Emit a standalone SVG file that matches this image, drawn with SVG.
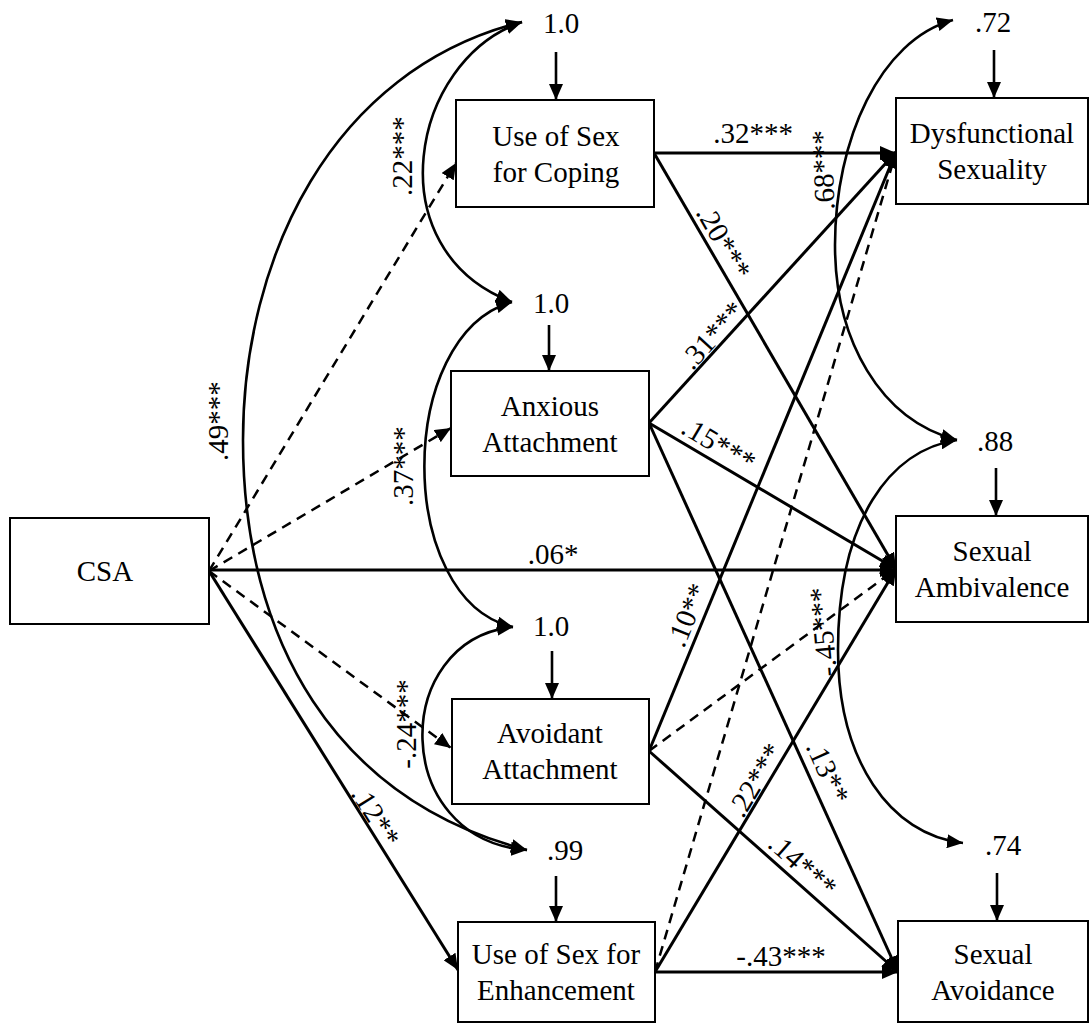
<svg xmlns="http://www.w3.org/2000/svg" width="1091" height="1025" viewBox="0 0 1091 1025" font-family="'Times New Roman', 'Liberation Serif', Times, serif" font-size="29">
<style>
text{font-family:'Times New Roman','Liberation Serif',Times,'DejaVu Serif',serif;font-size:29px;fill:#000}
.box{fill:#fff;stroke:#000;stroke-width:2}
.s{stroke:#000;stroke-width:3;fill:none;marker-end:url(#ah)}
.d{stroke:#000;stroke-width:2.5;fill:none;stroke-dasharray:10 7;marker-end:url(#ah)}
.c{stroke:#000;stroke-width:2.6;fill:none;marker-start:url(#ah2);marker-end:url(#ah2)}
.r{stroke:#000;stroke-width:2.6;fill:none;marker-end:url(#ah)}
.m{text-anchor:middle}
</style>
<defs>
<marker id="ah" markerUnits="userSpaceOnUse" markerWidth="18" markerHeight="14" refX="16" refY="7" orient="auto"><path d="M0,0 L16,7 L0,14 z" fill="#000"/></marker>
<marker id="ah2" markerUnits="userSpaceOnUse" markerWidth="18" markerHeight="14" refX="16" refY="7" orient="auto-start-reverse"><path d="M0,0 L16,7 L0,14 z" fill="#000"/></marker>
</defs>
<g id="connectors">
<line class="r" x1="556" y1="52" x2="556" y2="100"/>
<line class="r" x1="549" y1="325" x2="549" y2="371"/>
<line class="r" x1="552" y1="651" x2="552" y2="699"/>
<line class="r" x1="556" y1="876" x2="556" y2="922"/>
<line class="r" x1="994" y1="50" x2="994" y2="98"/>
<line class="r" x1="996" y1="468" x2="996" y2="516"/>
<line class="r" x1="997" y1="873" x2="997" y2="921"/>
<line class="d" x1="209" y1="571" x2="456" y2="163"/>
<line class="d" x1="209" y1="571" x2="451" y2="428"/>
<line class="d" x1="209" y1="571" x2="451" y2="748"/>
<line class="s" x1="209" y1="570" x2="896" y2="570"/>
<line class="s" x1="209" y1="571" x2="458" y2="970"/>
<line class="s" x1="654" y1="153" x2="896" y2="153"/>
<line class="s" x1="654" y1="153" x2="896" y2="569"/>
<line class="s" x1="649" y1="423" x2="896" y2="152"/>
<line class="s" x1="649" y1="423" x2="896" y2="569"/>
<line class="s" x1="649" y1="423" x2="898" y2="972"/>
<line class="s" x1="649" y1="751" x2="896" y2="152"/>
<line class="d" x1="649" y1="751" x2="896" y2="569"/>
<line class="s" x1="649" y1="751" x2="898" y2="972"/>
<line class="d" x1="655" y1="972" x2="896" y2="152"/>
<line class="s" x1="655" y1="972" x2="896" y2="569"/>
<line class="s" x1="655" y1="972" x2="898" y2="972"/>
<path class="c" d="M522,22 C410,60 375,250 512,302"/>
<path class="c" d="M512,302 C395,335 395,600 513,627"/>
<path class="c" d="M513,627 C390,640 390,840 527,850"/>
<path class="c" d="M522,22 C330,70 243,260 243,440 C243,640 335,800 527,850"/>
<path class="c" d="M953,20 C880,40 835,140 835,245 C835,340 880,420 957,440"/>
<path class="c" d="M957,440 C890,450 838,520 838,650 C838,760 890,835 963,843"/>
<text class="m" x="753" y="143">.32***</text>
<text class="m" transform="translate(724 242) rotate(59.8)" y="10">.20***</text>
<text class="m" transform="translate(712 335) rotate(-47.8)" y="10">.31***</text>
<text class="m" transform="translate(719 444) rotate(30.6)" y="10">.15***</text>
<text class="m" x="553" y="564">.06*</text>
<text class="m" transform="translate(687 615) rotate(-67.6)" y="10">.10**</text>
<text class="m" transform="translate(755 780) rotate(-59.1)" y="10">.22***</text>
<text class="m" transform="translate(828 772) rotate(65.6)" y="10">.13**</text>
<text class="m" transform="translate(803 865) rotate(41.6)" y="10">.14***</text>
<text class="m" x="781" y="966">-.43***</text>
<text class="m" transform="translate(376 816) rotate(58)" y="10">.12**</text>
<text class="m" transform="translate(823 170) rotate(-92)" y="10">.68***</text>
<text class="m" transform="translate(823 632) rotate(-95)" y="10">-.45***</text>
<text class="m" transform="translate(402 156) rotate(-90)" y="10">.22***</text>
<text class="m" transform="translate(218 421) rotate(-90)" y="10">.49***</text>
<text class="m" transform="translate(403 466) rotate(-90)" y="10">.37***</text>
<text class="m" transform="translate(406 724) rotate(-90)" y="10">-.24***</text>
<text class="m" x="561" y="33">1.0</text>
<text class="m" x="551" y="313">1.0</text>
<text class="m" x="551" y="636">1.0</text>
<text class="m" x="565" y="860">.99</text>
<text class="m" x="993" y="32">.72</text>
<text class="m" x="995" y="451">.88</text>
<text class="m" x="1003" y="855">.74</text>
</g>
<g id="csa"><rect class="box" x="10" y="518" width="199" height="106"/><text class="m" x="105" y="581">CSA</text></g>
<g id="coping"><rect class="box" x="456" y="100" width="198" height="107"/><text class="m" x="556" y="146">Use of Sex</text><text class="m" x="556" y="182">for Coping</text></g>
<g id="anxious"><rect class="box" x="451" y="371" width="198" height="105"/><text class="m" x="550" y="416">Anxious</text><text class="m" x="550" y="452">Attachment</text></g>
<g id="avoidant"><rect class="box" x="452" y="699" width="197" height="105"/><text class="m" x="550" y="743">Avoidant</text><text class="m" x="550" y="779">Attachment</text></g>
<g id="enhancement"><rect class="box" x="458" y="922" width="197" height="100"/><text class="m" x="556" y="964">Use of Sex for</text><text class="m" x="556" y="1000">Enhancement</text></g>
<g id="dysfunctional"><rect class="box" x="896" y="98" width="192" height="106"/><text class="m" x="992" y="143">Dysfunctional</text><text class="m" x="992" y="179">Sexuality</text></g>
<g id="ambivalence"><rect class="box" x="896" y="516" width="192" height="106"/><text class="m" x="992" y="561">Sexual</text><text class="m" x="992" y="597">Ambivalence</text></g>
<g id="avoidance"><rect class="box" x="898" y="921" width="190" height="101"/><text class="m" x="993" y="964">Sexual</text><text class="m" x="993" y="1000">Avoidance</text></g>
</svg>
